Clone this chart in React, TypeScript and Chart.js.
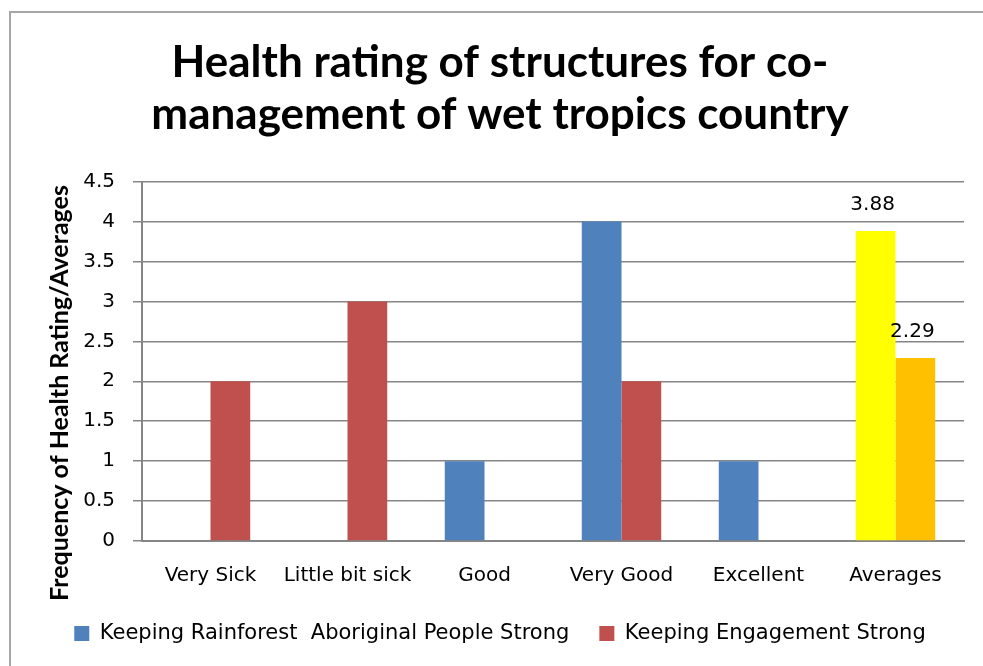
import React, { useEffect, useRef } from 'react';
import { Chart, registerables } from 'chart.js';

Chart.register(...registerables);

const categories = ['Very Sick', 'Little bit sick', 'Good', 'Very Good', 'Excellent', 'Averages'];
const rainforestValues = [0, 0, 1, 4, 1, 3.88];
const engagementValues = [2, 3, 0, 2, 0, 2.29];
const seriesNames = ['Keeping Rainforest  Aboriginal People Strong', 'Keeping Engagement Strong'];
const titleLines = ['Health rating of structures for co-', 'management of wet tropics country'];
const yAxisTitle = 'Frequency of Health Rating/Averages';

const BLUE = '#4F81BD';
const RED = '#C0504D';
const YELLOW = '#FFFF00';
const ORANGE = '#FFC000';
const GRID = '#868686';
const TICK_FONT = '"DejaVu Sans", sans-serif';

const avgLabelPlugin = {
  id: 'avgLabels',
  afterDatasetsDraw(chart: any) {
    const ctx = chart.ctx;
    const idx = categories.length - 1;
    chart.data.datasets.forEach((ds: any, di: number) => {
      const meta = chart.getDatasetMeta(di);
      const bar = meta.data[idx];
      const v = ds.data[idx];
      if (!bar) return;
      ctx.save();
      ctx.font = '20px ' + TICK_FONT;
      ctx.fillStyle = '#000';
      ctx.textAlign = 'center';
      ctx.textBaseline = 'middle';
      ctx.fillText(Number(v).toFixed(2), bar.x - 3, bar.y - 26);
      ctx.restore();
    });
  },
};

const yTitlePlugin = {
  id: 'yTitle',
  afterDraw(chart: any) {
    const ctx = chart.ctx;
    ctx.save();
    ctx.translate(60, 393);
    ctx.rotate(-Math.PI / 2);
    ctx.font = 'bold 25px Lato, sans-serif';
    ctx.fillStyle = '#000';
    ctx.textAlign = 'center';
    ctx.textBaseline = 'middle';
    ctx.fillText(yAxisTitle, 0, 0);
    ctx.restore();
  },
};

const whiteBg = {
  id: 'whiteBg',
  beforeDraw(chart: any) {
    const ctx = chart.ctx;
    ctx.save();
    ctx.fillStyle = '#fff';
    ctx.fillRect(0, 0, chart.width, chart.height);
    ctx.restore();
  },
};

export default function App() {
  const ref = useRef<HTMLCanvasElement | null>(null);

  useEffect(() => {
    if (!ref.current) return;
    const last = categories.length - 1;
    const chart = new Chart(ref.current, {
      type: 'bar',
      data: {
        labels: categories,
        datasets: [
          {
            label: seriesNames[0],
            data: rainforestValues,
            backgroundColor: (c: any) => (c.dataIndex === last ? YELLOW : BLUE),
            borderWidth: 0,
            categoryPercentage: 0.58,
            barPercentage: 1,
          },
          {
            label: seriesNames[1],
            data: engagementValues,
            backgroundColor: (c: any) => (c.dataIndex === last ? ORANGE : RED),
            borderWidth: 0,
            categoryPercentage: 0.58,
            barPercentage: 1,
          },
        ],
      },
      options: {
        animation: false,
        responsive: true,
        maintainAspectRatio: false,
        layout: { padding: { left: 36, right: 19, top: 0, bottom: 12 } },
        plugins: {
          title: {
            display: true,
            text: titleLines,
            color: '#000',
            font: { family: 'Lato, sans-serif', size: 44, weight: 'bold', lineHeight: 1.2 },
            padding: { top: 36, bottom: 40 },
          },
          legend: {
            position: 'bottom',
            labels: {
              color: '#000',
              font: { family: TICK_FONT, size: 21 },
              boxWidth: 15,
              boxHeight: 15,
              padding: 30,
            },
          },
          tooltip: { enabled: false },
        },
        scales: {
          x: {
            afterFit: (scale: any) => {
              scale.height = 52;
            },
            grid: { display: false },
            border: { display: true, color: GRID, width: 2 },
            ticks: {
              color: '#000',
              font: { family: TICK_FONT, size: 20 },
              padding: 15,
              autoSkip: false,
              maxRotation: 0,
            },
          },
          y: {
            min: 0,
            max: 4.5,
            afterFit: (scale: any) => {
              scale.width = 106;
            },
            grid: { color: GRID, lineWidth: 1.5, tickLength: 9, drawTicks: true },
            border: { display: true, color: GRID, width: 2 },
            ticks: {
              stepSize: 0.5,
              color: '#000',
              font: { family: TICK_FONT, size: 20 },
              padding: 18,
              callback: (v: any) => String(v),
            },
          },
        },
      },
      plugins: [whiteBg, avgLabelPlugin, yTitlePlugin],
    } as any);
    return () => chart.destroy();
  }, []);

  return (
    <div style={{ position: 'absolute', left: 0, top: 0, width: 983, height: 666, background: '#fff', overflow: 'hidden' }}>
      <canvas ref={ref} />
      <div
        style={{
          position: 'absolute',
          left: 9,
          top: 11,
          width: 1000,
          height: 700,
          borderTop: '2px solid #a6a6a6',
          borderLeft: '2px solid #a6a6a6',
          pointerEvents: 'none',
        }}
      />
    </div>
  );
}
